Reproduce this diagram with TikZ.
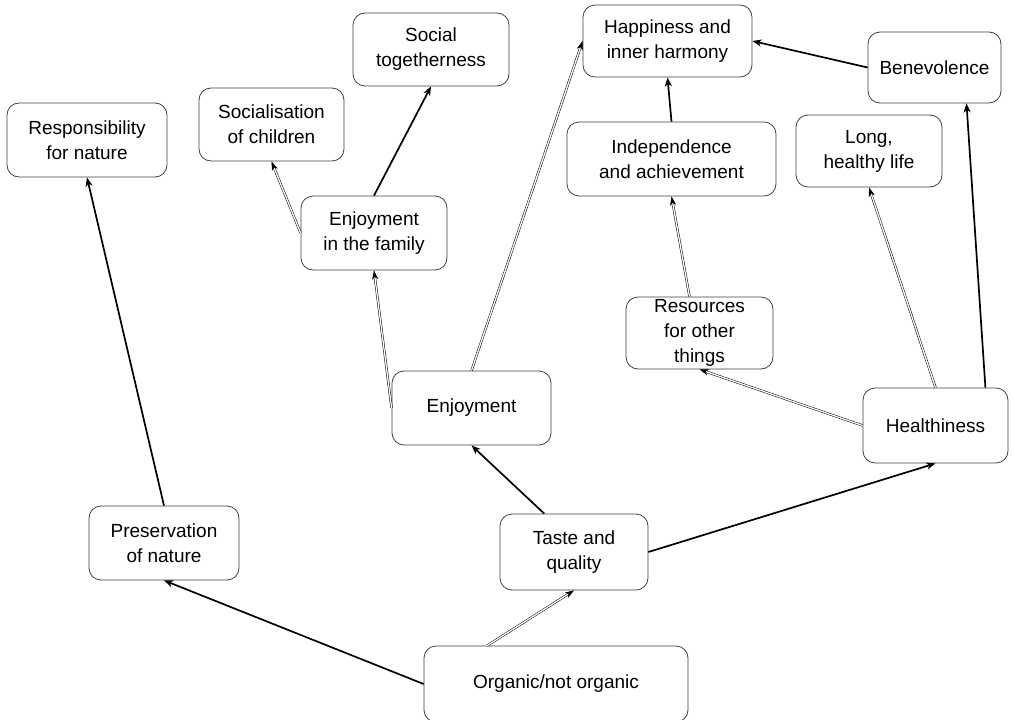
\documentclass[tikz,border=0pt]{standalone}
\usepackage{fontspec}
\setmainfont{Liberation Sans}
\usetikzlibrary{arrows.meta,calc}
\begin{document}
\begin{tikzpicture}[x=1pt,y=-1pt,
  box/.style={draw=black!75, line width=0.8pt, rounded corners=12pt, fill=white,
    align=center, inner sep=0pt, font=\fontsize{19}{25}\selectfont},
  thinlink/.style={draw=black, line width=0.5pt, double=white, double distance=1.3pt,
    -{Stealth[length=9pt,width=6pt,inset=2.5pt]}},
  boldlink/.style={draw=black, line width=1.7pt,
    -{Stealth[length=9pt,width=7pt,inset=2.5pt]}}]
\useasboundingbox (0,0) rectangle (1013,720);

% concepts
\node[box, minimum width=160pt, minimum height=74pt] (resp)  at (87,140)    {Responsibility\\for nature};
\node[box, minimum width=145pt, minimum height=73pt] (soc)   at (271.5,124.5) {Socialisation\\of children};
\node[box, minimum width=156pt, minimum height=73pt] (tog)   at (431,49.5)  {Social\\togetherness};
\node[box, minimum width=169pt, minimum height=72pt] (hap)   at (667.5,41)  {Happiness and\\inner harmony};
\node[box, minimum width=133pt, minimum height=71pt] (ben)   at (934.5,67.5) {Benevolence};
\node[box, minimum width=209pt, minimum height=74pt] (ind)   at (671.5,159) {Independence\\and achievement};
\node[box, minimum width=146pt, minimum height=72pt] (long)  at (869,151)   {Long,\\healthy life};
\node[box, minimum width=146pt, minimum height=74pt] (fam)   at (374,233)   {Enjoyment\\in the family};
\node[box, minimum width=147pt, minimum height=72pt] (res)   at (699.5,333) {Resources\\for other\\things};
\node[box, minimum width=159pt, minimum height=74pt] (enj)   at (471.5,408) {Enjoyment};
\node[box, minimum width=145pt, minimum height=75pt] (hea)   at (935.5,425.5) {Healthiness};
\node[box, minimum width=150pt, minimum height=74pt] (pres)  at (164,543)   {Preservation\\of nature};
\node[box, minimum width=148pt, minimum height=76pt] (taste) at (574,552)   {Taste and\\quality};
\node[box, minimum width=264pt, minimum height=76pt] (org)   at (556,684)   {Organic/not organic};

% links
\draw[boldlink] (org.west) -- (pres.south);
\draw[thinlink] ($(org.north west)!0.24!(org.north east)$) -- (taste.south);
\draw[boldlink] ($(taste.north west)!0.3!(taste.north east)$) -- (enj.south);
\draw[boldlink] (taste.east) -- (hea.south);
\draw[thinlink] (enj.west) -- (fam.south);
\draw[thinlink] (enj.north) -- (hap.west);
\draw[thinlink] (fam.west) -- (soc.south);
\draw[boldlink] (fam.north) -- (tog.south);
\draw[boldlink] (pres.north) -- (resp.south);
\draw[boldlink] (ind.north) -- (hap.south);
\draw[boldlink] (ben.west) -- (hap.east);
\draw[thinlink] ([xshift=-10pt]res.north) -- (ind.south);
\draw[thinlink] (hea.west) -- (res.south);
\draw[thinlink] (hea.north) -- (long.south);
\draw[boldlink] ([xshift=-23pt]hea.north east) -- ([xshift=32pt]ben.south);
\end{tikzpicture}
\end{document}
